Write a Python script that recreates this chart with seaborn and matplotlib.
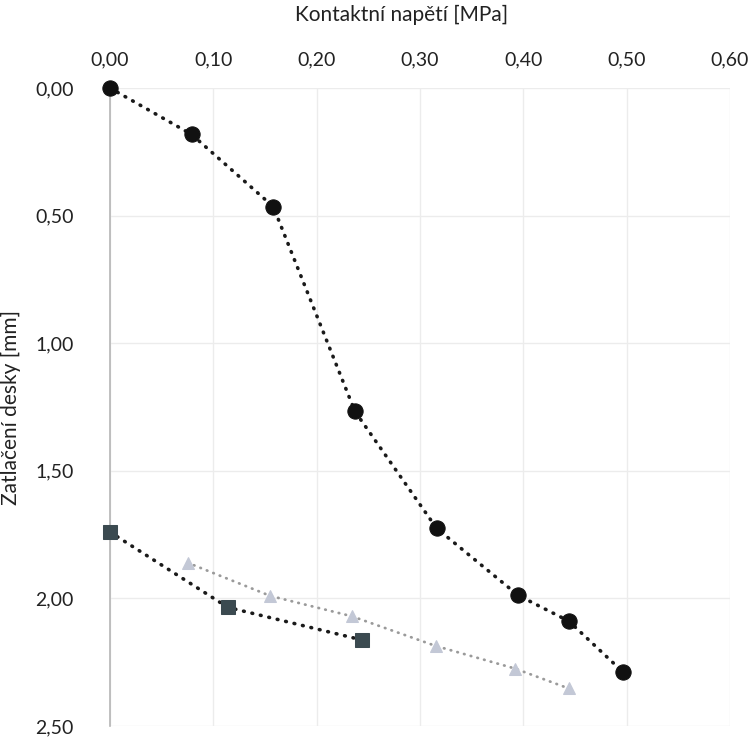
import matplotlib
matplotlib.use("Agg")
import matplotlib.pyplot as plt
import seaborn as sns
import pandas as pd

# Data
circle_x = [0.0, 0.079, 0.158, 0.237, 0.316, 0.395, 0.444, 0.496]
circle_y = [0.0, 0.182, 0.465, 1.267, 1.725, 1.988, 2.089, 2.287]

square_x = [0.0, 0.114, 0.244]
square_y = [1.74, 2.035, 2.163]

triangle_x = [0.075, 0.155, 0.234, 0.315, 0.392, 0.444]
triangle_y = [1.86, 1.99, 2.07, 2.186, 2.275, 2.353]

x_ticks = [0.0, 0.1, 0.2, 0.3, 0.4, 0.5, 0.6]
x_tick_labels = ["0,00", "0,10", "0,20", "0,30", "0,40", "0,50", "0,60"]
y_ticks = [0.0, 0.5, 1.0, 1.5, 2.0, 2.5]
y_tick_labels = ["0,00", "0,50", "1,00", "1,50", "2,00", "2,50"]

x_title = "Kontaktní napětí [MPa]"
y_title = "Zatlačení desky [mm]"

sns.set_theme(style="white")
plt.rcParams["font.family"] = ["Lato", "DejaVu Sans"]

fig = plt.figure(figsize=(7.54, 7.39), dpi=100)
ax = fig.add_axes([110 / 754, 1 - 726 / 739, 620 / 754, 638 / 739])

df_c = pd.DataFrame({"x": circle_x, "y": circle_y})
df_s = pd.DataFrame({"x": square_x, "y": square_y})
df_t = pd.DataFrame({"x": triangle_x, "y": triangle_y})

common = dict(sort=False, estimator=None, ax=ax, clip_on=False,
              dash_capstyle="round")

sns.lineplot(data=df_t, x="x", y="y", color="#9a9a9a", linewidth=2.0,
             linestyle=(0, (0.2, 2.3)), marker="^", markersize=9,
             markerfacecolor="#c3c8d6", markeredgecolor="#c3c8d6",
             zorder=3, **common)
sns.lineplot(data=df_s, x="x", y="y", color="#1a1a1a", linewidth=2.6,
             linestyle=(0, (0.2, 2.2)), marker="s", markersize=10,
             markerfacecolor="#3b4a50", markeredgecolor="#3b4a50",
             zorder=4, **common)
sns.lineplot(data=df_c, x="x", y="y", color="#1a1a1a", linewidth=2.6,
             linestyle=(0, (0.2, 2.2)), marker="o", markersize=11,
             markerfacecolor="#111111", markeredgecolor="#111111",
             zorder=5, **common)

ax.set_xlim(0, 0.6)
ax.set_ylim(2.5, 0)
ax.set_xticks(x_ticks)
ax.set_xticklabels(x_tick_labels)
ax.set_yticks(y_ticks)
ax.set_yticklabels(y_tick_labels)

ax.xaxis.tick_top()
ax.xaxis.set_label_position("top")
ax.tick_params(axis="both", length=0, labelsize=14, colors="#222222")
ax.tick_params(axis="x", pad=14)
ax.tick_params(axis="y", pad=26)

ax.set_xlabel(x_title, fontsize=15, color="#222222", labelpad=12)
ax.set_ylabel(y_title, fontsize=15, color="#222222", labelpad=10)
ax.xaxis.set_label_coords(0.47, 1.105)

ax.grid(True, color="#ececec", linewidth=1.0)
for name, sp in ax.spines.items():
    sp.set_visible(False)
ax.spines["left"].set_visible(True)
ax.spines["left"].set_color("#b5b5b5")
ax.spines["left"].set_linewidth(1.2)

fig.savefig("out.png", dpi=100)
